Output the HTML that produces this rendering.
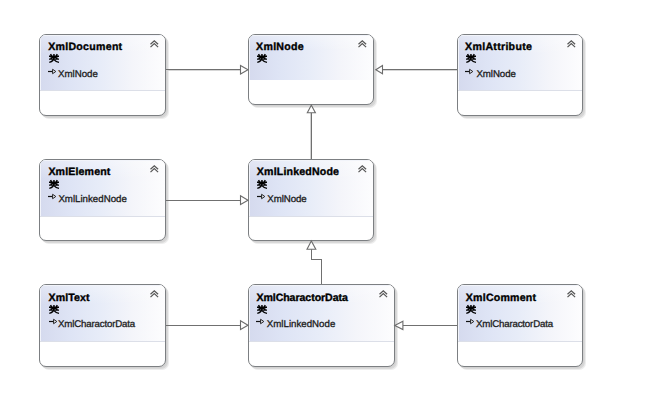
<!DOCTYPE html>
<html><head><meta charset="utf-8"><style>
html,body{margin:0;padding:0;background:#fff;}
body{width:657px;height:406px;position:relative;overflow:hidden;font-family:"Liberation Sans",sans-serif;}
body *{text-rendering:geometricPrecision;}
.box{position:absolute;box-sizing:border-box;border:1px solid #7c7f82;border-radius:7px;background:#fff;
 box-shadow:1px 1px 0 0 #d2d2d2,2px 2px 0 0 #d9d9d9,3px 3px 0 0 #ededed;overflow:hidden;}
.hdr{position:absolute;left:0;top:0;right:0;background:linear-gradient(to bottom,rgba(255,255,255,0.35) 0,rgba(255,255,255,0) 35%),linear-gradient(to right,#d5daee 0%,#dee4f5 24%,#e7ecf8 48%,#f4f5fa 74%,#fdfdfe 100%);box-shadow:inset 1px 1px 0 #f2f4fa;}
.div{position:absolute;left:0;right:0;height:1px;background:#dcdfe8;}
.t{position:absolute;white-space:nowrap;font-weight:bold;color:#000;-webkit-text-stroke:0.35px #000;font-size:10.6px;line-height:10.6px;}
.r{position:absolute;white-space:nowrap;color:#1c1c20;-webkit-text-stroke:0.3px #1c1c20;font-size:9.7px;line-height:9.7px;}
svg{position:absolute;display:block;overflow:visible;}
.ln{position:absolute;background:#7a7a7a;}
</style></head><body>

<div class="box" style="left:39px;top:34px;width:127px;height:82px">
<div class="hdr" style="height:55px"></div>
<div class="div" style="top:55px"></div>
</div>
<div class="t" style="left:48.20px;top:42.13px;letter-spacing:0.274px">XmlDocument</div>
<svg class="g" style="left:48.8px;top:53.9px" width="10" height="9" viewBox="0 0 10 9"><g stroke="#000" stroke-width="1.45" fill="none">
<path d="M1.5 0.1L2.5 1.7M8.3 0.1L7.3 1.7M4.95 0V4.2M0 2.3H10M4.6 2.9L1.4 4.3M5.3 2.9L8.6 4.3M0 5.1H10"/>
<path d="M4.95 3.6C4.9 6.3 3.3 7.7 0.3 8.4"/><path d="M5.3 5.9C6.3 7.2 7.9 8.1 10 8.4"/>
</g></svg>
<svg class="chev" style="left:149.6px;top:40.3px" width="10" height="9" viewBox="0 0 10 9"><path d="M0.5 4.2L4.3 0.7 8.1 4.2M0.5 7.1L4.3 3.6 8.1 7.1" fill="none" stroke="#555" stroke-width="1.2"/></svg>
<div class="r" style="left:58.00px;top:69.89px;letter-spacing:0.001px">XmlNode</div>
<svg class="inh" style="left:48.2px;top:68.9px" width="9" height="6" viewBox="0 0 9 6"><path d="M0 2.5H4.6" stroke="#111" stroke-width="1.2"/><path d="M4.6 0.3V4.7L7.8 2.5Z" fill="#fff" fill-opacity="0.5" stroke="#222" stroke-width="1"/></svg>
<div class="box" style="left:248px;top:34px;width:126px;height:71px">
<div class="hdr" style="height:45px"></div>
</div>
<div class="t" style="left:256.10px;top:42.13px;letter-spacing:0.277px">XmlNode</div>
<svg class="g" style="left:256.7px;top:54.0px" width="10" height="9" viewBox="0 0 10 9"><g stroke="#000" stroke-width="1.45" fill="none">
<path d="M1.5 0.1L2.5 1.7M8.3 0.1L7.3 1.7M4.95 0V4.2M0 2.3H10M4.6 2.9L1.4 4.3M5.3 2.9L8.6 4.3M0 5.1H10"/>
<path d="M4.95 3.6C4.9 6.3 3.3 7.7 0.3 8.4"/><path d="M5.3 5.9C6.3 7.2 7.9 8.1 10 8.4"/>
</g></svg>
<svg class="chev" style="left:357.6px;top:40.3px" width="10" height="9" viewBox="0 0 10 9"><path d="M0.5 4.2L4.3 0.7 8.1 4.2M0.5 7.1L4.3 3.6 8.1 7.1" fill="none" stroke="#555" stroke-width="1.2"/></svg>
<div class="box" style="left:457px;top:34px;width:126px;height:82px">
<div class="hdr" style="height:55px"></div>
<div class="div" style="top:55px"></div>
</div>
<div class="t" style="left:465.10px;top:42.13px;letter-spacing:0.291px">XmlAttribute</div>
<svg class="g" style="left:465.7px;top:53.9px" width="10" height="9" viewBox="0 0 10 9"><g stroke="#000" stroke-width="1.45" fill="none">
<path d="M1.5 0.1L2.5 1.7M8.3 0.1L7.3 1.7M4.95 0V4.2M0 2.3H10M4.6 2.9L1.4 4.3M5.3 2.9L8.6 4.3M0 5.1H10"/>
<path d="M4.95 3.6C4.9 6.3 3.3 7.7 0.3 8.4"/><path d="M5.3 5.9C6.3 7.2 7.9 8.1 10 8.4"/>
</g></svg>
<svg class="chev" style="left:566.6px;top:40.3px" width="10" height="9" viewBox="0 0 10 9"><path d="M0.5 4.2L4.3 0.7 8.1 4.2M0.5 7.1L4.3 3.6 8.1 7.1" fill="none" stroke="#555" stroke-width="1.2"/></svg>
<div class="r" style="left:476.40px;top:69.99px;letter-spacing:-0.049px">XmlNode</div>
<svg class="inh" style="left:465.1px;top:69.0px" width="9" height="6" viewBox="0 0 9 6"><path d="M0 2.5H4.6" stroke="#111" stroke-width="1.2"/><path d="M4.6 0.3V4.7L7.8 2.5Z" fill="#fff" fill-opacity="0.5" stroke="#222" stroke-width="1"/></svg>
<div class="box" style="left:39px;top:159px;width:127px;height:82px">
<div class="hdr" style="height:56px"></div>
<div class="div" style="top:56px"></div>
</div>
<div class="t" style="left:48.40px;top:166.93px;letter-spacing:0.147px">XmlElement</div>
<svg class="g" style="left:49.0px;top:180.0px" width="10" height="9" viewBox="0 0 10 9"><g stroke="#000" stroke-width="1.45" fill="none">
<path d="M1.5 0.1L2.5 1.7M8.3 0.1L7.3 1.7M4.95 0V4.2M0 2.3H10M4.6 2.9L1.4 4.3M5.3 2.9L8.6 4.3M0 5.1H10"/>
<path d="M4.95 3.6C4.9 6.3 3.3 7.7 0.3 8.4"/><path d="M5.3 5.9C6.3 7.2 7.9 8.1 10 8.4"/>
</g></svg>
<svg class="chev" style="left:149.6px;top:165.3px" width="10" height="9" viewBox="0 0 10 9"><path d="M0.5 4.2L4.3 0.7 8.1 4.2M0.5 7.1L4.3 3.6 8.1 7.1" fill="none" stroke="#555" stroke-width="1.2"/></svg>
<div class="r" style="left:58.40px;top:194.89px;letter-spacing:0.002px">XmlLinkedNode</div>
<svg class="inh" style="left:48.4px;top:193.9px" width="9" height="6" viewBox="0 0 9 6"><path d="M0 2.5H4.6" stroke="#111" stroke-width="1.2"/><path d="M4.6 0.3V4.7L7.8 2.5Z" fill="#fff" fill-opacity="0.5" stroke="#222" stroke-width="1"/></svg>
<div class="box" style="left:248px;top:159px;width:126px;height:82px">
<div class="hdr" style="height:56px"></div>
<div class="div" style="top:56px"></div>
</div>
<div class="t" style="left:256.80px;top:166.93px;letter-spacing:0.175px">XmlLinkedNode</div>
<svg class="g" style="left:257.4px;top:180.0px" width="10" height="9" viewBox="0 0 10 9"><g stroke="#000" stroke-width="1.45" fill="none">
<path d="M1.5 0.1L2.5 1.7M8.3 0.1L7.3 1.7M4.95 0V4.2M0 2.3H10M4.6 2.9L1.4 4.3M5.3 2.9L8.6 4.3M0 5.1H10"/>
<path d="M4.95 3.6C4.9 6.3 3.3 7.7 0.3 8.4"/><path d="M5.3 5.9C6.3 7.2 7.9 8.1 10 8.4"/>
</g></svg>
<svg class="chev" style="left:357.6px;top:165.3px" width="10" height="9" viewBox="0 0 10 9"><path d="M0.5 4.2L4.3 0.7 8.1 4.2M0.5 7.1L4.3 3.6 8.1 7.1" fill="none" stroke="#555" stroke-width="1.2"/></svg>
<div class="r" style="left:267.30px;top:194.89px;letter-spacing:-0.066px">XmlNode</div>
<svg class="inh" style="left:256.8px;top:193.9px" width="9" height="6" viewBox="0 0 9 6"><path d="M0 2.5H4.6" stroke="#111" stroke-width="1.2"/><path d="M4.6 0.3V4.7L7.8 2.5Z" fill="#fff" fill-opacity="0.5" stroke="#222" stroke-width="1"/></svg>
<div class="box" style="left:39px;top:284px;width:127px;height:83px">
<div class="hdr" style="height:56px"></div>
<div class="div" style="top:56px"></div>
</div>
<div class="t" style="left:48.60px;top:293.23px;letter-spacing:0.092px">XmlText</div>
<svg class="g" style="left:49.2px;top:304.8px" width="10" height="9" viewBox="0 0 10 9"><g stroke="#000" stroke-width="1.45" fill="none">
<path d="M1.5 0.1L2.5 1.7M8.3 0.1L7.3 1.7M4.95 0V4.2M0 2.3H10M4.6 2.9L1.4 4.3M5.3 2.9L8.6 4.3M0 5.1H10"/>
<path d="M4.95 3.6C4.9 6.3 3.3 7.7 0.3 8.4"/><path d="M5.3 5.9C6.3 7.2 7.9 8.1 10 8.4"/>
</g></svg>
<svg class="chev" style="left:149.6px;top:290.3px" width="10" height="9" viewBox="0 0 10 9"><path d="M0.5 4.2L4.3 0.7 8.1 4.2M0.5 7.1L4.3 3.6 8.1 7.1" fill="none" stroke="#555" stroke-width="1.2"/></svg>
<div class="r" style="left:58.00px;top:320.09px;letter-spacing:-0.166px">XmlCharactorData</div>
<svg class="inh" style="left:48.6px;top:319.1px" width="9" height="6" viewBox="0 0 9 6"><path d="M0 2.5H4.6" stroke="#111" stroke-width="1.2"/><path d="M4.6 0.3V4.7L7.8 2.5Z" fill="#fff" fill-opacity="0.5" stroke="#222" stroke-width="1"/></svg>
<div class="box" style="left:248px;top:284px;width:147px;height:83px">
<div class="hdr" style="height:56px"></div>
<div class="div" style="top:56px"></div>
</div>
<div class="t" style="left:256.40px;top:293.23px;letter-spacing:-0.064px">XmlCharactorData</div>
<svg class="g" style="left:257.0px;top:304.8px" width="10" height="9" viewBox="0 0 10 9"><g stroke="#000" stroke-width="1.45" fill="none">
<path d="M1.5 0.1L2.5 1.7M8.3 0.1L7.3 1.7M4.95 0V4.2M0 2.3H10M4.6 2.9L1.4 4.3M5.3 2.9L8.6 4.3M0 5.1H10"/>
<path d="M4.95 3.6C4.9 6.3 3.3 7.7 0.3 8.4"/><path d="M5.3 5.9C6.3 7.2 7.9 8.1 10 8.4"/>
</g></svg>
<svg class="chev" style="left:378.6px;top:290.3px" width="10" height="9" viewBox="0 0 10 9"><path d="M0.5 4.2L4.3 0.7 8.1 4.2M0.5 7.1L4.3 3.6 8.1 7.1" fill="none" stroke="#555" stroke-width="1.2"/></svg>
<div class="r" style="left:266.80px;top:320.19px;letter-spacing:0.010px">XmlLinkedNode</div>
<svg class="inh" style="left:256.4px;top:319.2px" width="9" height="6" viewBox="0 0 9 6"><path d="M0 2.5H4.6" stroke="#111" stroke-width="1.2"/><path d="M4.6 0.3V4.7L7.8 2.5Z" fill="#fff" fill-opacity="0.5" stroke="#222" stroke-width="1"/></svg>
<div class="box" style="left:457px;top:284px;width:126px;height:83px">
<div class="hdr" style="height:56px"></div>
<div class="div" style="top:56px"></div>
</div>
<div class="t" style="left:465.80px;top:293.23px;letter-spacing:0.220px">XmlComment</div>
<svg class="g" style="left:466.4px;top:304.8px" width="10" height="9" viewBox="0 0 10 9"><g stroke="#000" stroke-width="1.45" fill="none">
<path d="M1.5 0.1L2.5 1.7M8.3 0.1L7.3 1.7M4.95 0V4.2M0 2.3H10M4.6 2.9L1.4 4.3M5.3 2.9L8.6 4.3M0 5.1H10"/>
<path d="M4.95 3.6C4.9 6.3 3.3 7.7 0.3 8.4"/><path d="M5.3 5.9C6.3 7.2 7.9 8.1 10 8.4"/>
</g></svg>
<svg class="chev" style="left:566.6px;top:290.3px" width="10" height="9" viewBox="0 0 10 9"><path d="M0.5 4.2L4.3 0.7 8.1 4.2M0.5 7.1L4.3 3.6 8.1 7.1" fill="none" stroke="#555" stroke-width="1.2"/></svg>
<div class="r" style="left:476.00px;top:320.09px;letter-spacing:-0.173px">XmlCharactorData</div>
<svg class="inh" style="left:465.8px;top:319.1px" width="9" height="6" viewBox="0 0 9 6"><path d="M0 2.5H4.6" stroke="#111" stroke-width="1.2"/><path d="M4.6 0.3V4.7L7.8 2.5Z" fill="#fff" fill-opacity="0.5" stroke="#222" stroke-width="1"/></svg>
<div class="ln" style="left:166px;top:69px;width:75px;height:1px;background:#707070"></div>
<div class="ln" style="left:166px;top:70px;width:75px;height:1px;background:#d6d6d6"></div>
<div class="ln" style="left:383px;top:69px;width:74px;height:1px;background:#707070"></div>
<div class="ln" style="left:383px;top:70px;width:74px;height:1px;background:#d6d6d6"></div>
<div class="ln" style="left:311px;top:113px;width:1px;height:46px;background:#707070"></div>
<div class="ln" style="left:310px;top:113px;width:1px;height:46px;background:#d2d2d2"></div>
<div class="ln" style="left:166px;top:200px;width:75px;height:1px;background:#707070"></div>
<div class="ln" style="left:311px;top:249px;width:1px;height:11px;background:#707070"></div>
<div class="ln" style="left:311px;top:259px;width:11px;height:1px;background:#707070"></div>
<div class="ln" style="left:321px;top:259px;width:1px;height:25px;background:#707070"></div>
<div class="ln" style="left:166px;top:325px;width:75px;height:1px;background:#707070"></div>
<div class="ln" style="left:403px;top:325px;width:54px;height:1px;background:#707070"></div>
<svg style="left:0;top:0" width="657" height="406" viewBox="0 0 657 406"><g fill="#fff" stroke="#6c6c6c" stroke-width="1.1"><path d="M240.5 65.5L248 69.8 240.5 74z"/><path d="M382.5 65.5L375.8 69.8 382.5 73.8z"/><path d="M311.3 105.2L307.3 112.8H315.4z"/><path d="M240.5 195.8L248 200.3 240.5 204.5z"/><path d="M311.3 241L307 249.3H315.8z"/><path d="M240.5 320.8L248 325.3 240.5 329.5z"/><path d="M402.9 321.2L394.8 325.4 402.9 329.5z"/></g></svg>
</body></html>
